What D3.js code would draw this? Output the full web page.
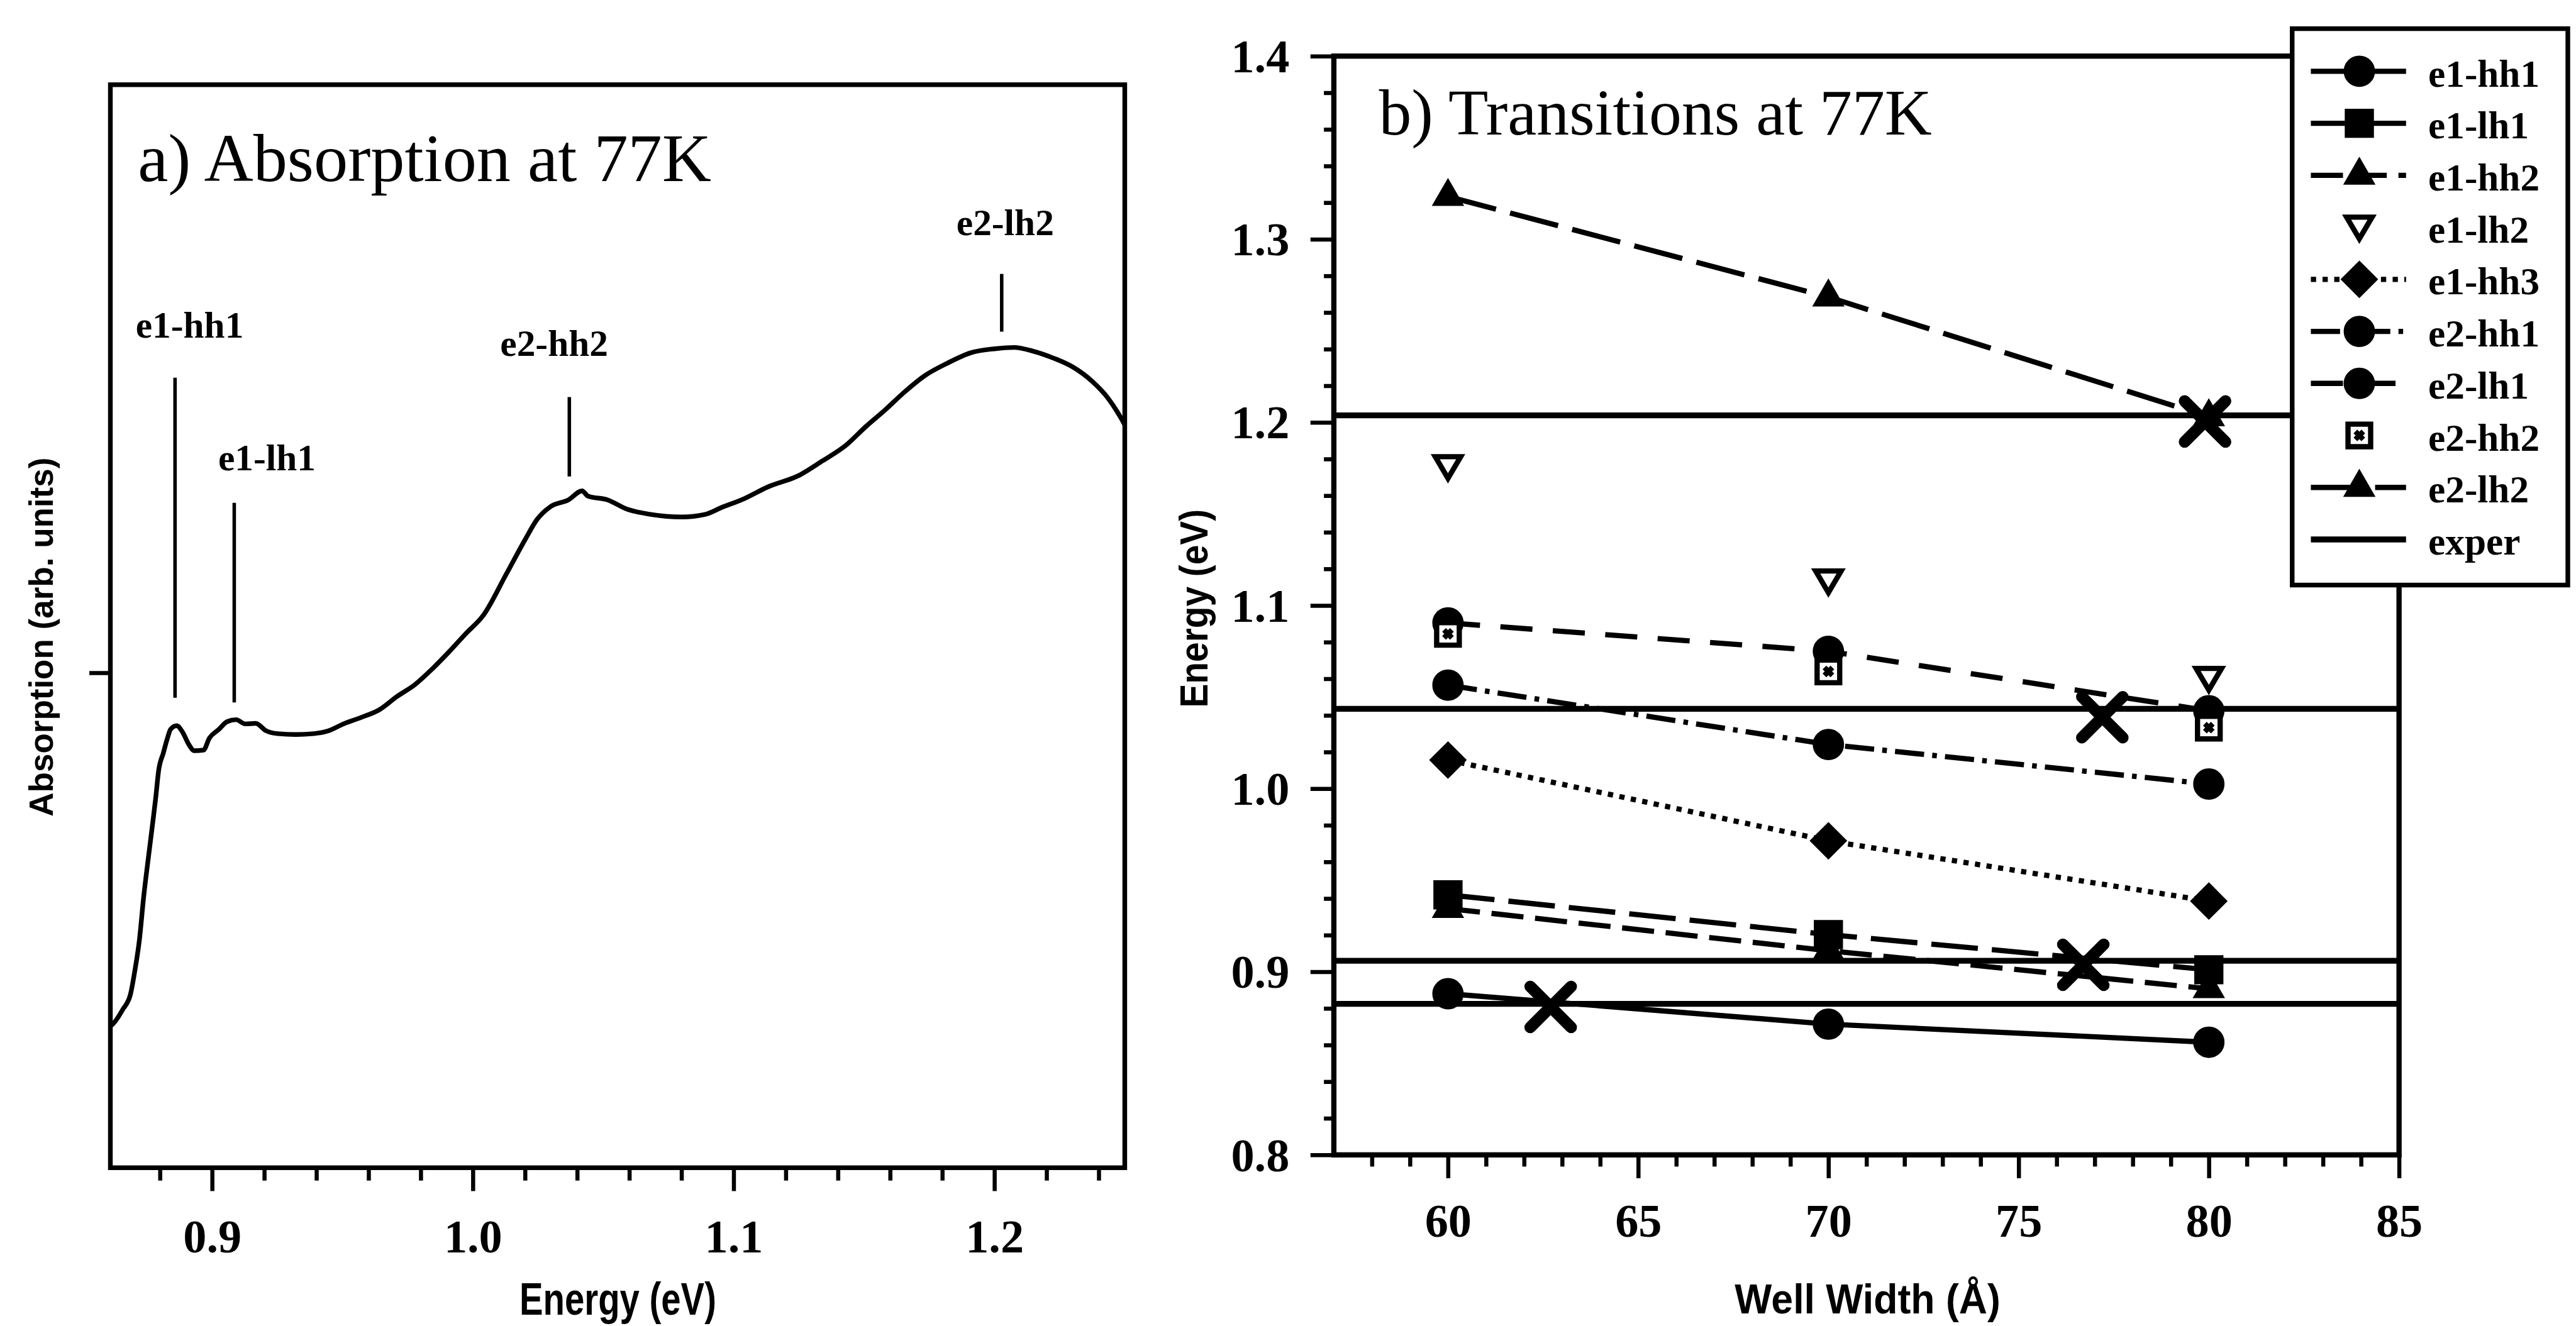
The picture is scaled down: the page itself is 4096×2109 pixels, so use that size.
<!DOCTYPE html>
<html>
<head>
<meta charset="utf-8">
<script src="https://cdn.jsdelivr.net/npm/d3@7"></script>
<style>html,body{margin:0;padding:0;background:#fff;overflow:hidden}</style>
</head>
<body>
<script>
// ================= DATA =================
// Panel a) absorption spectrum (arbitrary units)
const absEnergy = [0.861,0.8619,0.8658,0.8687,0.8704,0.8721,0.8738,0.8756,0.8773,0.8784,0.8795,0.8813,0.8829,0.8841,0.8864,0.8887,0.8910,0.8932,0.8967,0.8990,0.9024,0.9058,0.9092,0.9127,0.9167,0.9207,0.9252,0.9321,0.9389,0.9447,0.9504,0.9573,0.9641,0.9709,0.9778,0.9847,0.9914,0.9972,1.0042,1.0128,1.0202,1.0246,1.0299,1.0367,1.0419,1.0441,1.0516,1.0591,1.0681,1.0802,1.0891,1.0952,1.1041,1.1131,1.1252,1.1341,1.1431,1.1506,1.1581,1.1656,1.1731,1.1820,1.1911,1.2001,1.2075,1.2151,1.2225,1.2301,1.2375,1.2436,1.2488,1.25];
const absValue  = [0.131,0.1326,0.1463,0.1601,0.1822,0.2097,0.2508,0.2868,0.3197,0.3418,0.3666,0.3829,0.3968,0.4049,0.4081,0.4022,0.3911,0.3851,0.3856,0.3968,0.4043,0.4119,0.4137,0.4098,0.4103,0.4035,0.4008,0.4000,0.4008,0.4035,0.4098,0.4159,0.4228,0.4351,0.4461,0.4612,0.4777,0.4929,0.5107,0.548,0.5806,0.5985,0.6106,0.6167,0.6250,0.6202,0.6167,0.6081,0.6033,0.6009,0.6033,0.6094,0.6178,0.6286,0.6394,0.6527,0.6671,0.6841,0.6997,0.7164,0.7310,0.7429,0.7526,0.7562,0.7574,0.7538,0.7477,0.7393,0.7261,0.7105,0.6912,0.686];
const absXTicksMajor = [0.9,1.0,1.1,1.2];
const absXTicksMinor = [0.88,0.92,0.94,0.96,0.98,1.02,1.04,1.06,1.08,1.12,1.14,1.16,1.18,1.22,1.24];
const absYTicks = [0.457];
const peakLabels = ["e1-hh1","e1-lh1","e2-hh2","e2-lh2"];
const peakEnergy = [0.8858,0.9085,1.0370,1.2028];
const peakTop    = [0.7294,0.6140,0.7116,0.8253];
const peakBottom = [0.4340,0.4296,0.6383,0.7720];

// Panel b) transitions vs well width
const wellWidth = [60,70,80];
const seriesNames = ["e1-hh1","e1-lh1","e1-hh2","e1-lh2","e1-hh3","e2-hh1","e2-lh1","e2-hh2","e2-lh2"];
const e1hh1 = [0.8880,0.8714,0.8615];
const e1lh1 = [0.9420,0.9203,0.9011];
const e1hh2 = [0.9345,0.9115,0.8907];
const e1lh2 = [1.1757,1.1133,1.0601];
const e1hh3 = [1.0156,0.9715,0.9386];
const e2hh1 = [1.0565,1.0241,1.0025];
const e2lh1 = [1.0905,1.0750,1.0425];
const e2hh2 = [1.0845,1.0640,1.0333];
const e2lh2 = [1.3233,1.2684,1.2030];
const experEnergy = [1.2038,1.0436,0.9060,0.8825];
const crossWidth  = [79.9,77.2,76.7,62.7];
const crossEnergy = [1.2005,1.0390,0.9038,0.8808];
const wTicksMajor = [60,65,70,75,80,85];
const wTicksMinor = [58,59,61,62,63,64,66,67,68,69,71,72,73,74,76,77,78,79,81,82,83,84];
const eTicksMajor = [0.8,0.9,1.0,1.1,1.2,1.3,1.4];
const eTicksMinor = [0.82,0.84,0.86,0.88,0.92,0.94,0.96,0.98,1.02,1.04,1.06,1.08,1.12,1.14,1.16,1.18,1.22,1.24,1.26,1.28,1.32,1.34,1.36,1.38];

// ================= SETUP =================
const W = 4411, H = 2271;
const SERIF = "'Liberation Serif','Times New Roman',serif";
const SANS = "'Liberation Sans',Arial,sans-serif";
const svg = d3.select("body").append("svg")
  .attr("width", 4096).attr("height", 2109)
  .attr("viewBox", `0 0 ${W} ${H}`);
svg.append("rect").attr("width", W).attr("height", H).attr("fill", "#fff");

// ================= PANEL A =================
const xA = d3.scaleLinear().domain([0.861, 1.25]).range([189, 1926]);
const yA = d3.scaleLinear().domain([0, 1]).range([2000, 145]);

svg.append("path")
  .datum(d3.zip(absEnergy, absValue))
  .attr("d", d3.line().x(d => xA(d[0])).y(d => yA(d[1])).curve(d3.curveMonotoneX))
  .attr("fill", "none").attr("stroke", "#000").attr("stroke-width", 8)
  .attr("stroke-linejoin", "round");

svg.append("rect").attr("x", xA.range()[0]).attr("y", yA.range()[1])
  .attr("width", xA.range()[1] - xA.range()[0]).attr("height", yA.range()[0] - yA.range()[1])
  .attr("fill", "none").attr("stroke", "#000").attr("stroke-width", 8);

function styleAxis(g, fs) {
  g.select(".domain").remove();
  g.attr("font-size", null).attr("font-family", null);
  g.selectAll(".tick line").attr("stroke", "#000").attr("stroke-width", 7);
  g.selectAll(".tick text").attr("fill", "#000")
    .style("font-family", SERIF).style("font-weight", "bold").style("font-size", fs + "px");
}

const gxA = svg.append("g").attr("transform", `translate(0,${yA.range()[0]})`)
  .call(d3.axisBottom(xA).tickValues(absXTicksMajor).tickSize(40).tickFormat(d3.format(".1f")));
styleAxis(gxA, 80);
gxA.selectAll(".tick text").attr("y", 145).attr("dy", null);
const gxAm = svg.append("g").attr("transform", `translate(0,${yA.range()[0]})`)
  .call(d3.axisBottom(xA).tickValues(absXTicksMinor).tickSize(22).tickFormat(""));
styleAxis(gxAm, 10);
const gyA = svg.append("g").attr("transform", `translate(${xA.range()[0]},0)`)
  .call(d3.axisLeft(yA).tickValues(absYTicks).tickSize(36).tickFormat(""));
styleAxis(gyA, 10);

// peak markers
const peakDx = [25, 56, -26, 6];
const peakDy = [-69, -56, -71, -66];
peakLabels.forEach((lab, i) => {
  svg.append("line")
    .attr("x1", xA(peakEnergy[i])).attr("x2", xA(peakEnergy[i]))
    .attr("y1", yA(peakTop[i])).attr("y2", yA(peakBottom[i]))
    .attr("stroke", "#000").attr("stroke-width", 6);
  svg.append("text").text(lab)
    .attr("x", xA(peakEnergy[i]) + peakDx[i]).attr("y", yA(peakTop[i]) + peakDy[i])
    .attr("text-anchor", "middle")
    .style("font-family", SERIF).style("font-weight", "bold").style("font-size", "64px");
});

svg.append("text").text("a) Absorption at 77K")
  .attr("x", 236).attr("y", 310).attr("textLength", 982).attr("lengthAdjust", "spacingAndGlyphs")
  .style("font-family", SERIF).style("font-size", "116px");

svg.append("text").text("Absorption (arb. units)")
  .attr("transform", "translate(90,1091) rotate(-90)")
  .attr("text-anchor", "middle").attr("textLength", 615).attr("lengthAdjust", "spacingAndGlyphs")
  .style("font-family", SANS).style("font-weight", "bold").style("font-size", "58px");

svg.append("text").text("Energy (eV)")
  .attr("x", 1058).attr("y", 2252).attr("text-anchor", "middle")
  .attr("textLength", 337).attr("lengthAdjust", "spacingAndGlyphs")
  .style("font-family", SANS).style("font-weight", "bold").style("font-size", "78px");

// ================= PANEL B =================
const xB = d3.scaleLinear().domain([57, 85]).range([2284, 4108]);
const yB = d3.scaleLinear().domain([0.8, 1.4]).range([1978, 96]);

// experimental lines
svg.append("g").selectAll("line").data(experEnergy).join("line")
  .attr("x1", xB.range()[0]).attr("x2", xB.range()[1])
  .attr("y1", d => yB(d)).attr("y2", d => yB(d))
  .attr("stroke", "#000").attr("stroke-width", 10);

// frame
svg.append("rect").attr("x", xB.range()[0]).attr("y", yB.range()[1])
  .attr("width", xB.range()[1] - xB.range()[0]).attr("height", yB.range()[0] - yB.range()[1])
  .attr("fill", "none").attr("stroke", "#000").attr("stroke-width", 9);

// marker shapes
const symDiamond = { draw(ctx, s) { const r = Math.sqrt(s) / 2; ctx.moveTo(0, -r); ctx.lineTo(r, 0); ctx.lineTo(0, r); ctx.lineTo(-r, 0); ctx.closePath(); } };
const symTriDown = { draw(ctx, s) { const r = Math.sqrt(s) / 2; ctx.moveTo(-r, -r * 0.8); ctx.lineTo(r, -r * 0.8); ctx.lineTo(0, r * 0.9); ctx.closePath(); } };
const symSquareOpen = { draw(ctx, s) { const r = Math.sqrt(s) / 2; ctx.moveTo(-r, -r); ctx.lineTo(r, -r); ctx.lineTo(r, r); ctx.lineTo(-r, r); ctx.closePath();
  const q = r * 0.35; ctx.moveTo(-q, -q); ctx.lineTo(q, q); ctx.moveTo(-q, q); ctx.lineTo(q, -q); } };
const symCross = { draw(ctx, s) { const r = Math.sqrt(s) / 2; ctx.moveTo(-r, -r); ctx.lineTo(r, r); ctx.moveTo(-r, r); ctx.lineTo(r, -r); } };

const seriesValues = [e1hh1, e1lh1, e1hh2, e1lh2, e1hh3, e2hh1, e2lh1, e2hh2, e2lh2];
const seriesStyle = [
  { sym: d3.symbolCircle, size: 2100, fill: true, line: true, dash: null },
  { sym: d3.symbolSquare, size: 2300, fill: true, line: true, dash: "80,24" },
  { sym: d3.symbolTriangle, size: 1170, fill: true, line: true, dash: "55,20" },
  { sym: symTriDown, size: 1900, fill: false, line: false, dash: null },
  { sym: symDiamond, size: 3800, fill: true, line: true, dash: "9,11" },
  { sym: d3.symbolCircle, size: 2100, fill: true, line: true, dash: "50,14,8,14" },
  { sym: d3.symbolCircle, size: 2100, fill: true, line: true, dash: "55,35" },
  { sym: symSquareOpen, size: 1500, fill: false, line: false, dash: null },
  { sym: d3.symbolTriangle, size: 1170, fill: true, line: true, dash: "85,25" }
];

const lineGen = d3.line().x(d => xB(d[0])).y(d => yB(d[1]));
seriesValues.forEach((vals, i) => {
  const st = seriesStyle[i];
  if (st.line) {
    svg.append("path").datum(d3.zip(wellWidth, vals))
      .attr("d", lineGen).attr("fill", "none").attr("stroke", "#000")
      .attr("stroke-width", 9).attr("stroke-dasharray", st.dash);
  }
});
seriesValues.forEach((vals, i) => {
  const st = seriesStyle[i];
  svg.append("g").selectAll("path").data(d3.zip(wellWidth, vals)).join("path")
    .attr("transform", d => `translate(${xB(d[0])},${yB(d[1])})`)
    .attr("d", d3.symbol(st.sym, st.size))
    .attr("fill", st.fill ? "#000" : "#fff").attr("stroke", "#000")
    .attr("stroke-width", st.fill ? 2 : 9);
});

// crossing marks
svg.append("g").selectAll("path").data(d3.zip(crossWidth, crossEnergy)).join("path")
  .attr("transform", d => `translate(${xB(d[0])},${yB(d[1])})`)
  .attr("d", d3.symbol(symCross, 4900))
  .attr("fill", "none").attr("stroke", "#000").attr("stroke-width", 20).attr("stroke-linecap", "round");

// axes
const gxB = svg.append("g").attr("transform", `translate(0,${yB.range()[0]})`)
  .call(d3.axisBottom(xB).tickValues(wTicksMajor).tickSize(40).tickFormat(d3.format("d")));
styleAxis(gxB, 80);
gxB.selectAll(".tick text").attr("y", 140).attr("dy", null);
const gxBm = svg.append("g").attr("transform", `translate(0,${yB.range()[0]})`)
  .call(d3.axisBottom(xB).tickValues(wTicksMinor).tickSize(20).tickFormat(""));
styleAxis(gxBm, 10);
const gyB = svg.append("g").attr("transform", `translate(${xB.range()[0]},0)`)
  .call(d3.axisLeft(yB).tickValues(eTicksMajor).tickSize(40).tickFormat(d3.format(".1f")));
styleAxis(gyB, 80);
gyB.selectAll(".tick text").attr("x", -76).attr("dy", "0.34em");
const gyBm = svg.append("g").attr("transform", `translate(${xB.range()[0]},0)`)
  .call(d3.axisLeft(yB).tickValues(eTicksMinor).tickSize(17).tickFormat(""));
styleAxis(gyBm, 10);

svg.append("text").text("b) Transitions at 77K")
  .attr("x", 2361).attr("y", 230).attr("textLength", 947).attr("lengthAdjust", "spacingAndGlyphs")
  .style("font-family", SERIF).style("font-size", "111px");

svg.append("text").text("Energy (eV)")
  .attr("transform", "translate(2068,1042) rotate(-90)")
  .attr("text-anchor", "middle").attr("textLength", 340).attr("lengthAdjust", "spacingAndGlyphs")
  .style("font-family", SANS).style("font-weight", "bold").style("font-size", "68px");

svg.append("text").text("Well Width (Å)")
  .attr("x", 3198).attr("y", 2250).attr("text-anchor", "middle")
  .attr("textLength", 455).attr("lengthAdjust", "spacingAndGlyphs")
  .style("font-family", SANS).style("font-weight", "bold").style("font-size", "72px");

// legend
const legNames = seriesNames.concat(["exper"]);
const legX0 = 3925, legY0 = 49, legW = 472, legH = 953;
const leg = svg.append("g");
leg.append("rect").attr("x", legX0).attr("y", legY0).attr("width", legW).attr("height", legH)
  .attr("fill", "#fff").attr("stroke", "#000").attr("stroke-width", 8);
legNames.forEach((name, i) => {
  const cy = 122 + i * 89.1;
  const st = i < seriesStyle.length ? seriesStyle[i] : { line: true, dash: null, sym: null, exper: true };
  if (st.line) {
    leg.append("line").attr("x1", 3957).attr("x2", 4120).attr("y1", cy).attr("y2", cy)
      .attr("stroke", "#000").attr("stroke-width", st.exper ? 10 : 9).attr("stroke-dasharray", st.dash);
  }
  if (st.sym) {
    leg.append("path").attr("transform", `translate(4040,${cy})`)
      .attr("d", d3.symbol(st.sym, st.size))
      .attr("fill", st.fill ? "#000" : "#fff").attr("stroke", "#000")
      .attr("stroke-width", st.fill ? 2 : 9);
  }
  leg.append("text").text(name).attr("x", 4158).attr("y", cy + 26)
    .style("font-family", SERIF).style("font-weight", "bold").style("font-size", "66px");
});
</script>
</body>
</html>
